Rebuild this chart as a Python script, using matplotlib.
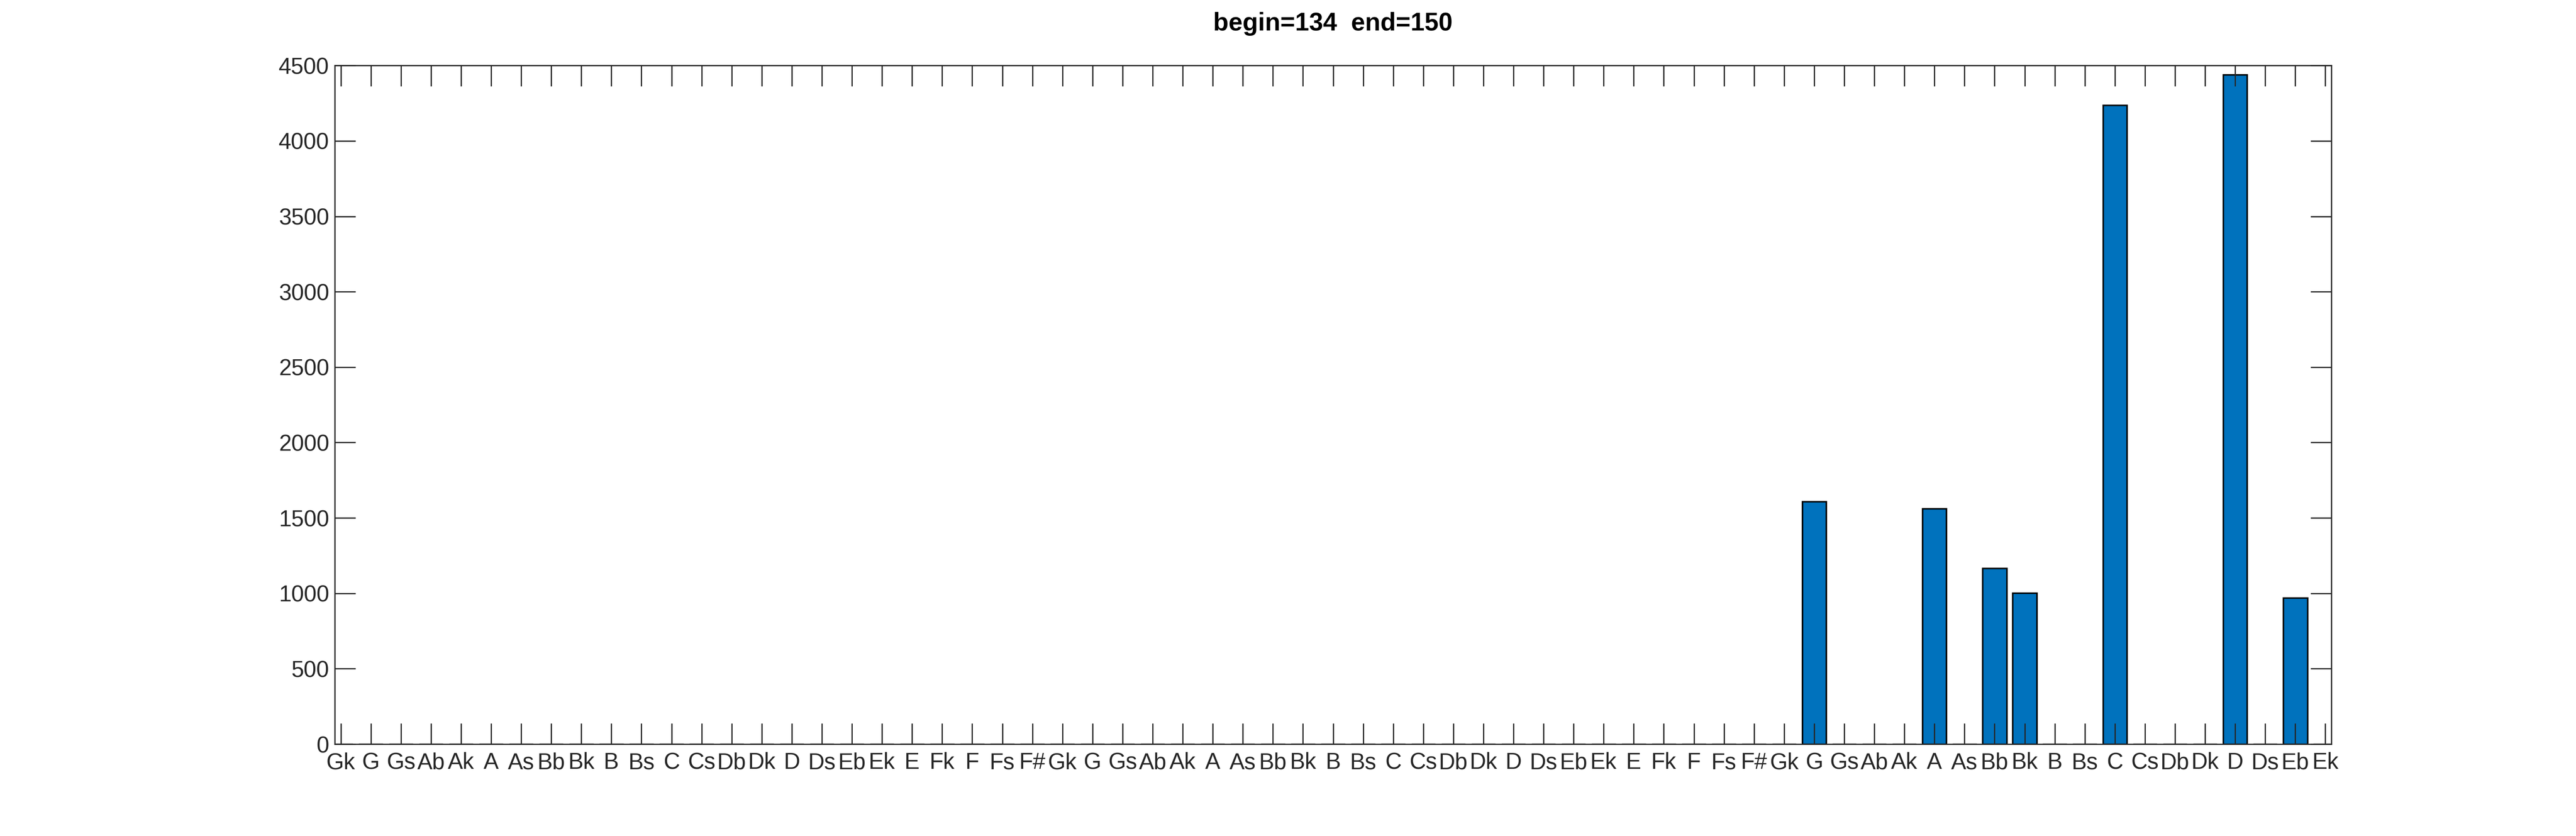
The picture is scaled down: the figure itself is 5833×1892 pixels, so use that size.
import matplotlib
matplotlib.use("Agg")
import matplotlib.pyplot as plt
import numpy as np

plt.rcParams['font.family'] = ['Liberation Sans', 'DejaVu Sans']

octave_labels = ["Gk", "G", "Gs", "Ab", "Ak", "A", "As", "Bb", "Bk", "B", "Bs", "C",
                 "Cs", "Db", "Dk", "D", "Ds", "Eb", "Ek", "E", "Fk", "F", "Fs", "F#"]
categories = octave_labels + octave_labels + octave_labels[:19]

nonzero_labels_idx = [49, 53, 55, 56, 59, 63, 65]
nonzero_values = [1610, 1563, 1166, 1002, 4237, 4438, 970]

values = [0] * len(categories)
for i, v in zip(nonzero_labels_idx, nonzero_values):
    values[i] = v

yticks = [0, 500, 1000, 1500, 2000, 2500, 3000, 3500, 4000, 4500]
title = "begin=134  end=150"

W, H = 5833, 1892
dpi = 100
fig = plt.figure(figsize=(W / dpi, H / dpi), dpi=dpi)
left, right = 758 / W, 5279 / W
bottom, top = 1 - 1684 / H, 1 - 148.3 / H
ax = fig.add_axes([left, bottom, right - left, top - bottom])

x = np.arange(1, len(categories) + 1)
ax.bar(x, values, width=0.8, color='#0072BD', edgecolor='black', linewidth=2.5, zorder=1)

ax.set_xlim(0.8, 67.2)
ax.set_ylim(0, 4500)
ax.set_xticks(x)
ax.set_xticklabels(categories)
ax.set_yticks(yticks)
ax.set_yticklabels([str(v) for v in yticks])

axcol = '#262626'
for s in ax.spines.values():
    s.set_color(axcol)
    s.set_linewidth(2.0)
    s.set_zorder(3)

ax.tick_params(axis='both', direction='in', length=34, width=2.0, color=axcol,
               labelcolor=axcol, labelsize=37, top=True, right=True)
ax.tick_params(axis='x', pad=13)
ax.tick_params(axis='y', pad=9)

ax.set_title(title, fontsize=41, fontweight='bold', pad=57, color='black')

fig.savefig("out.png", dpi=dpi, facecolor='white')
